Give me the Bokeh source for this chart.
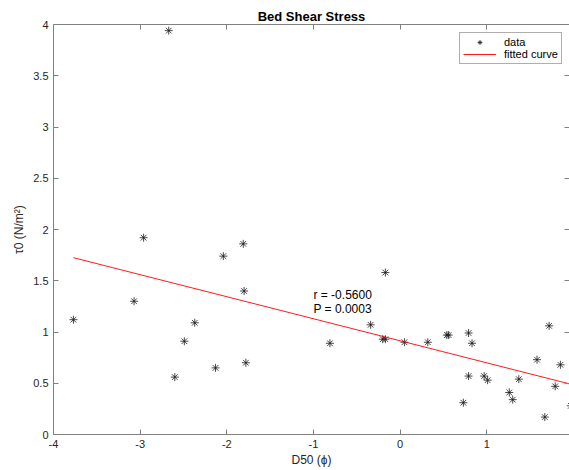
from bokeh.plotting import figure
from bokeh.models import LinearAxis, FixedTicker, Range1d
from bokeh.core.properties import value
from bokeh.embed import file_html
from bokeh.resources import INLINE

# ---- data ----
d50 = [-3.77, -3.07, -2.96, -2.67, -2.60, -2.49, -2.37, -2.13, -2.04, -1.81,
       -1.80, -1.78, -0.81, -0.34, -0.17, -0.20, -0.17, 0.05, 0.32, 0.54,
       0.56, 0.79, 0.83, 0.79, 0.73, 0.97, 1.01, 1.37, 1.26, 1.30,
       1.58, 1.72, 1.85, 1.79, 1.67, 1.97]
tau0 = [1.12, 1.30, 1.92, 3.94, 0.56, 0.91, 1.09, 0.65, 1.74, 1.86,
        1.40, 0.70, 0.89, 1.07, 1.58, 0.93, 0.93, 0.90, 0.90, 0.97,
        0.97, 0.99, 0.89, 0.57, 0.31, 0.57, 0.53, 0.54, 0.41, 0.34,
        0.73, 1.06, 0.68, 0.47, 0.17, 0.28]

fit_x = [-3.77, 2.0]
fit_y = [1.725, 0.484]

ann_x = [-1.0, -1.0]
ann_y = [1.36, 1.22]
ann_text = ["r = -0.5600", "P = 0.0003"]

xticks = [-4, -3, -2, -1, 0, 1, 2]
xtick_labels = ["-4", "-3", "-2", "-1", "0", "1", "2"]
yticks = [0, 0.5, 1, 1.5, 2, 2.5, 3, 3.5, 4]
ytick_labels = ["0", "0.5", "1", "1.5", "2", "2.5", "3", "3.5", "4"]

FONT = "Liberation Sans"
AXC = "#808080"
TXC = "#262626"

p = figure(width=569, height=470, output_backend="svg", toolbar_location=None,
           x_range=Range1d(-4, 1.955), y_range=Range1d(0, 4),
           min_border_left=53, min_border_right=0, min_border_top=24,
           min_border_bottom=36, background_fill_color="white",
           border_fill_color="white")
p.outline_line_color = None
p.grid.visible = False

p.title.text = "Bed Shear Stress"
p.title.align = "center"
p.title.text_font = FONT
p.title.text_font_size = "13px"
p.title.text_font_style = "bold"
p.title.text_color = "black"
p.title.standoff = 2

def style_axis(ax, ticks, labels, show_labels=True, show_line=True):
    ax.ticker = FixedTicker(ticks=ticks)
    ax.major_label_overrides = {t: l for t, l in zip(ticks, labels)}
    ax.minor_tick_line_color = None
    ax.major_tick_in = 5
    ax.major_tick_out = 0
    ax.major_tick_line_color = AXC
    ax.axis_line_color = AXC if show_line else None
    ax.major_label_text_font = FONT
    ax.major_label_text_font_size = "11px" if show_labels else "0px"
    ax.major_label_text_color = TXC
    ax.major_label_standoff = 5 if show_labels else 0
    ax.axis_label_text_font = FONT
    ax.axis_label_text_font_size = "12px"
    ax.axis_label_text_font_style = "normal"
    ax.axis_label_text_color = TXC

style_axis(p.xaxis[0], xticks, xtick_labels)
style_axis(p.yaxis[0], yticks, ytick_labels)
p.xaxis[0].axis_label = "D50 (\u03d5)"
p.xaxis[0].axis_label_standoff = 2
p.yaxis[0].axis_label = "\u03c40 (N/m\u00b2)"
p.yaxis[0].axis_label_standoff = 4

top = LinearAxis()
style_axis(top, xticks, [""] * len(xticks), show_labels=False)
p.add_layout(top, "above")
right = LinearAxis()
style_axis(right, yticks, [""] * len(yticks), show_labels=False, show_line=False)
p.add_layout(right, "right")

p.scatter(d50, tau0, marker="asterisk", size=8, line_color="#1a1a1a",
          line_width=0.8, legend_label="data")
p.line(fit_x, fit_y, line_color="#ff0000", line_width=0.9,
       legend_label="fitted curve")

p.text(x=ann_x, y=ann_y, text=ann_text, text_font=value(FONT),
       text_font_size="12px", text_align="left", text_baseline="middle",
       text_color="black")

lg = p.legend[0]
lg.location = (406, 370)
lg.padding = 3
lg.margin = 0
lg.spacing = 0
lg.glyph_width = 33
lg.glyph_height = 12
lg.label_height = 12
lg.label_standoff = 8
lg.label_text_font = FONT
lg.label_text_font_size = "11px"
lg.label_text_color = "black"
lg.border_line_color = "#606060"
lg.border_line_width = 1
lg.background_fill_color = "white"
lg.background_fill_alpha = 1

open("out.html", "w").write(file_html(p, INLINE))
